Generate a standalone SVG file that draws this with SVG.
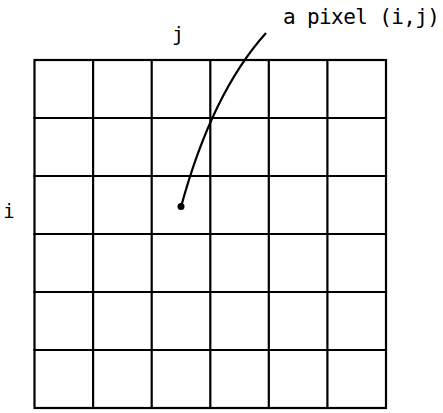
<svg xmlns="http://www.w3.org/2000/svg" width="443" height="413" viewBox="0 0 443 413">
<style>
.g{stroke:#000;stroke-width:2.2;fill:none;stroke-linecap:square}
.t{font-family:"DejaVu Sans Mono","Liberation Mono",monospace;fill:#000}
</style>
<rect width="443" height="413" fill="#fff"/>
<g id="grid" class="g">
<rect x="34.5" y="60" width="351.5" height="348"/>
<path d="M93.1 60V408M151.7 60V408M210.3 60V408M268.8 60V408M327.4 60V408"/>
<path d="M34.5 118H386M34.5 176H386M34.5 234H386M34.5 292H386M34.5 350H386"/>
</g>
<g id="labels">
<text class="t" x="178" y="41" font-size="20" text-anchor="middle">j</text>
<text class="t" x="9" y="218" font-size="19" text-anchor="middle">i</text>
<text class="t" x="283" y="24" font-size="21" textLength="157" lengthAdjust="spacing">a pixel (i,j)</text>
</g>
<g id="connectors">
<path d="M266 33Q212 93 181 207" stroke="#000" stroke-width="2.2" fill="none"/>
<circle cx="181" cy="206.5" r="3.5" fill="#000"/>
</g>
</svg>
